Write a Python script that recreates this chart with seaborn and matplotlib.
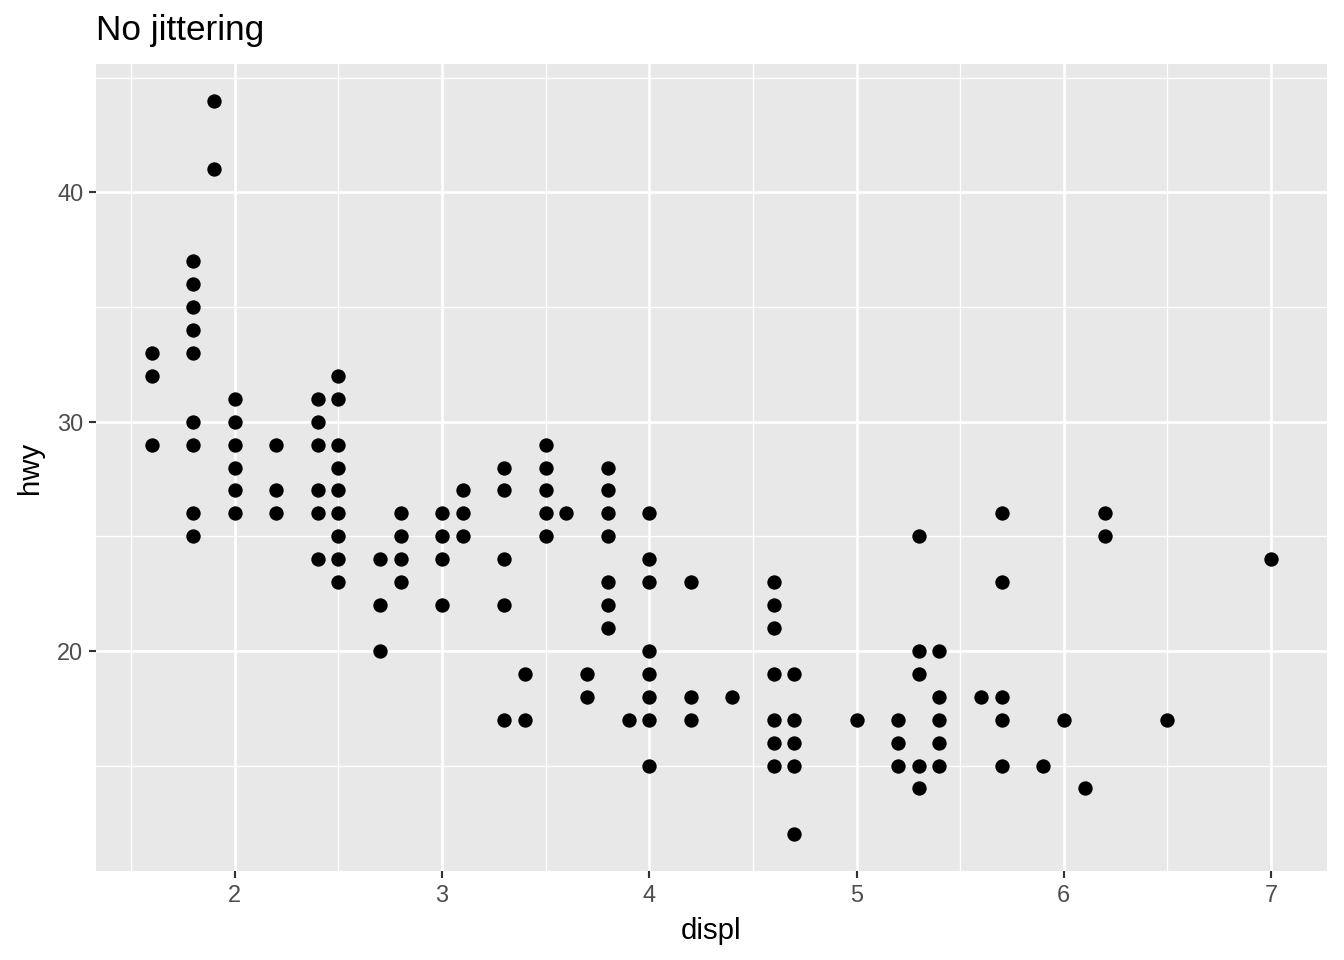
import matplotlib

matplotlib.use("Agg")

import matplotlib.pyplot as plt
import matplotlib.ticker as mtick
import pandas as pd
import seaborn as sns

# distinct (displ, hwy) positions, one column per engine size
displ = (
    [1.6] * 3
    + [1.8] * 9
    + [1.9] * 2
    + [2.0] * 6
    + [2.2] * 3
    + [2.4] * 6
    + [2.5] * 9
    + [2.7] * 3
    + [2.8] * 4
    + [3.0] * 4
    + [3.1] * 3
    + [3.3] * 5
    + [3.4] * 2
    + [3.5] * 5
    + [3.6] * 1
    + [3.7] * 2
    + [3.8] * 7
    + [3.9] * 1
    + [4.0] * 8
    + [4.2] * 3
    + [4.4] * 1
    + [4.6] * 7
    + [4.7] * 5
    + [5.0] * 1
    + [5.2] * 3
    + [5.3] * 5
    + [5.4] * 5
    + [5.6] * 1
    + [5.7] * 5
    + [5.9] * 1
    + [6.0] * 1
    + [6.1] * 1
    + [6.2] * 2
    + [6.5] * 1
    + [7.0] * 1
)
hwy = [
    33, 32, 29,
    37, 36, 35, 34, 33, 30, 29, 26, 25,
    44, 41,
    31, 30, 29, 28, 27, 26,
    29, 27, 26,
    31, 30, 29, 27, 26, 24,
    32, 31, 29, 28, 27, 26, 25, 24, 23,
    24, 22, 20,
    26, 25, 24, 23,
    26, 25, 24, 22,
    27, 26, 25,
    28, 27, 24, 22, 17,
    19, 17,
    29, 28, 27, 26, 25,
    26,
    19, 18,
    28, 27, 26, 25, 23, 22, 21,
    17,
    26, 24, 23, 20, 19, 18, 17, 15,
    23, 18, 17,
    18,
    23, 22, 21, 19, 17, 16, 15,
    19, 17, 16, 15, 12,
    17,
    17, 16, 15,
    25, 20, 19, 15, 14,
    20, 18, 17, 16, 15,
    18,
    26, 23, 18, 17, 15,
    15,
    17,
    14,
    26, 25,
    17,
    24,
]
x_ticks = [2, 3, 4, 5, 6, 7]
y_ticks = [20, 30, 40]

df = pd.DataFrame({"displ": displ, "hwy": hwy})

sns.set_theme(
    style="darkgrid",
    rc={
        "axes.facecolor": "#E8E8E8",
        "grid.color": "white",
        "axes.edgecolor": "none",
        "xtick.color": "#333333",
        "ytick.color": "#333333",
        "xtick.labelcolor": "#4D4D4D",
        "ytick.labelcolor": "#4D4D4D",
        "xtick.bottom": True,
        "ytick.left": True,
        "xtick.major.size": 2.75,
        "ytick.major.size": 2.75,
        "xtick.major.width": 0.8,
        "ytick.major.width": 0.8,
    },
)
plt.rcParams["font.family"] = ["Liberation Sans", "DejaVu Sans"]

fig = plt.figure(figsize=(7, 5), dpi=192)
ax = fig.add_axes([96 / 1344, 1 - 871 / 960, (1327 - 96) / 1344, (871 - 64) / 960])

sns.scatterplot(data=df, x="displ", y="hwy", color="black", s=29, linewidth=0, ax=ax)

lo, hi = min(displ), max(displ)
pad = (hi - lo) * 0.05
ax.set_xlim(lo - pad, hi + pad)
lo, hi = min(hwy), max(hwy)
pad = (hi - lo) * 0.05
ax.set_ylim(lo - pad, hi + pad)

ax.set_xticks(x_ticks)
ax.set_yticks(y_ticks)
ax.xaxis.set_minor_locator(mtick.FixedLocator([1.5, 2.5, 3.5, 4.5, 5.5, 6.5]))
ax.yaxis.set_minor_locator(mtick.FixedLocator([15, 25, 35, 45]))
ax.grid(which="major", color="white", linewidth=1.0)
ax.grid(which="minor", color="white", linewidth=0.5)
ax.tick_params(axis="both", which="major", labelsize=8.8, pad=2)
ax.tick_params(axis="both", which="minor", length=0)

ax.set_xlabel("displ", fontsize=11, color="black", labelpad=4)
ax.set_ylabel("hwy", fontsize=11, color="black", labelpad=5)
ax.set_title("No jittering", loc="left", fontsize=13.2, color="black", pad=9)
sns.despine(ax=ax, left=True, bottom=True)

fig.savefig("out.png", dpi=192, facecolor="white")
